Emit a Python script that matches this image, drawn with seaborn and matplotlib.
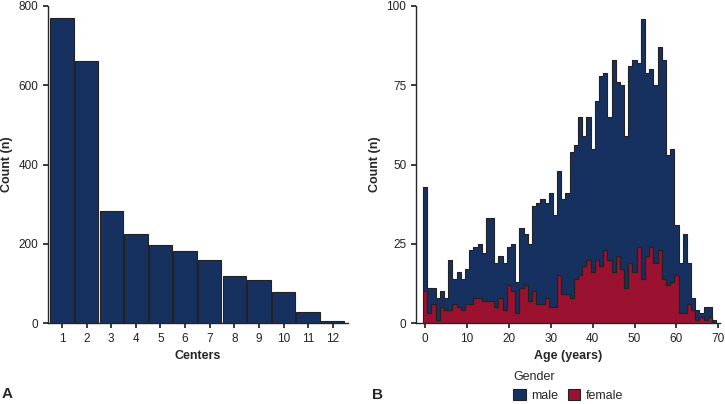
import matplotlib
matplotlib.use("Agg")
import matplotlib.pyplot as plt
import numpy as np
import pandas as pd
import seaborn as sns

# ---- Data ----
centers = [str(i) for i in range(1, 13)]
center_counts = [769, 661, 283, 224, 196, 181, 160, 118, 108, 79, 27, 4]

ages = list(range(0, 70))
total_counts = [43, 11, 11, 8, 10, 8, 20, 14, 16, 14,
                17, 23, 24, 25, 22, 33, 33, 19, 21, 19,
                24, 25, 13, 30, 28, 25, 37, 38, 39, 38,
                41, 34, 48, 39, 41, 54, 56, 65, 59, 65,
                55, 70, 78, 79, 65, 83, 76, 75, 59, 81,
                83, 82, 96, 79, 80, 75, 87, 83, 53, 55,
                31, 19, 28, 19, 8, 4, 3, 5, 5, 1]
female_counts = [10, 3, 6, 1, 5, 4, 4, 6, 5, 4,
                 6, 6, 8, 8, 7, 7, 7, 5, 8, 4,
                 12, 10, 3, 11, 12, 7, 10, 6, 6, 8,
                 5, 5, 15, 9, 9, 8, 14, 15, 18, 20,
                 16, 20, 18, 23, 20, 16, 21, 17, 11, 19,
                 16, 24, 14, 21, 24, 19, 23, 14, 12, 13,
                 15, 3, 3, 6, 4, 1, 2, 1, 2, 0]
male_counts = [t - f for t, f in zip(total_counts, female_counts)]
genders = ["male", "female"]

NAVY = "#16305f"
RED = "#9b1230"
EDGE = "#222222"

sns.set_theme(style="ticks")
plt.rcParams['font.family'] = ['Liberation Sans', 'DejaVu Sans']
plt.rcParams['xtick.labelsize'] = 8.5
plt.rcParams['ytick.labelsize'] = 8.5
plt.rcParams['xtick.major.size'] = 3.5
plt.rcParams['ytick.major.size'] = 3.5
plt.rcParams['axes.linewidth'] = 1.0
plt.rcParams['xtick.color'] = '#222222'
plt.rcParams['ytick.color'] = '#222222'

fig = plt.figure(figsize=(7.25, 4.04), dpi=100)
ax1 = fig.add_axes([48/725, 1-323/404, 300/725, 317/404])
ax2 = fig.add_axes([416/725, 1-323/404, 304/725, 317/404])

# ---- Panel A ----
df1 = pd.DataFrame({"Centers": centers, "Count": center_counts})
sns.barplot(data=df1, x="Centers", y="Count", color=NAVY, saturation=1,
            width=0.95, edgecolor=EDGE, linewidth=0.8, ax=ax1)
ax1.set_ylim(0, 800)
ax1.set_yticks([0, 200, 400, 600, 800])
ax1.set_xlim(-0.57, 11.62)
ax1.set_xlabel("Centers", fontweight="bold", fontsize=9)
ax1.set_ylabel("Count (n)", fontweight="bold", fontsize=9)
for s in ["top", "right"]:
    ax1.spines[s].set_visible(False)

# ---- Panel B ----
df2 = pd.DataFrame({
    "Age": ages + ages,
    "Gender": ["male"] * len(ages) + ["female"] * len(ages),
    "n": male_counts + female_counts,
})
sns.histplot(data=df2, x="Age", weights="n", hue="Gender", hue_order=genders,
             palette={"male": NAVY, "female": RED}, discrete=True,
             multiple="stack", element="step", alpha=1,
             edgecolor=EDGE, linewidth=0.8, ax=ax2)
ax2.set_ylim(0, 100)
ax2.set_yticks([0, 25, 50, 75, 100])
ax2.set_xlim(-2.2, 70.4)
ax2.set_xticks([0, 10, 20, 30, 40, 50, 60, 70])
ax2.set_xlabel("Age (years)", fontweight="bold", fontsize=9)
ax2.set_ylabel("Count (n)", fontweight="bold", fontsize=9)
for s in ["top", "right"]:
    ax2.spines[s].set_visible(False)

sns.move_legend(ax2, "upper center", bbox_to_anchor=(0.5, -0.135), ncol=2,
                frameon=False, title="Gender", alignment="left",
                fontsize=9, title_fontsize=9, handlelength=1.0,
                handleheight=1.0, handletextpad=0.4, columnspacing=0.8,
                borderaxespad=0)
for h in ax2.get_legend().legend_handles:
    h.set_edgecolor(EDGE)
    h.set_linewidth(0.8)

fig.text(2/725, 1-394/404, "A", fontweight="bold", fontsize=11, va="center", ha="left")
fig.text(372/725, 1-395/404, "B", fontweight="bold", fontsize=11, va="center", ha="left")

fig.savefig("out.png", dpi=100)
